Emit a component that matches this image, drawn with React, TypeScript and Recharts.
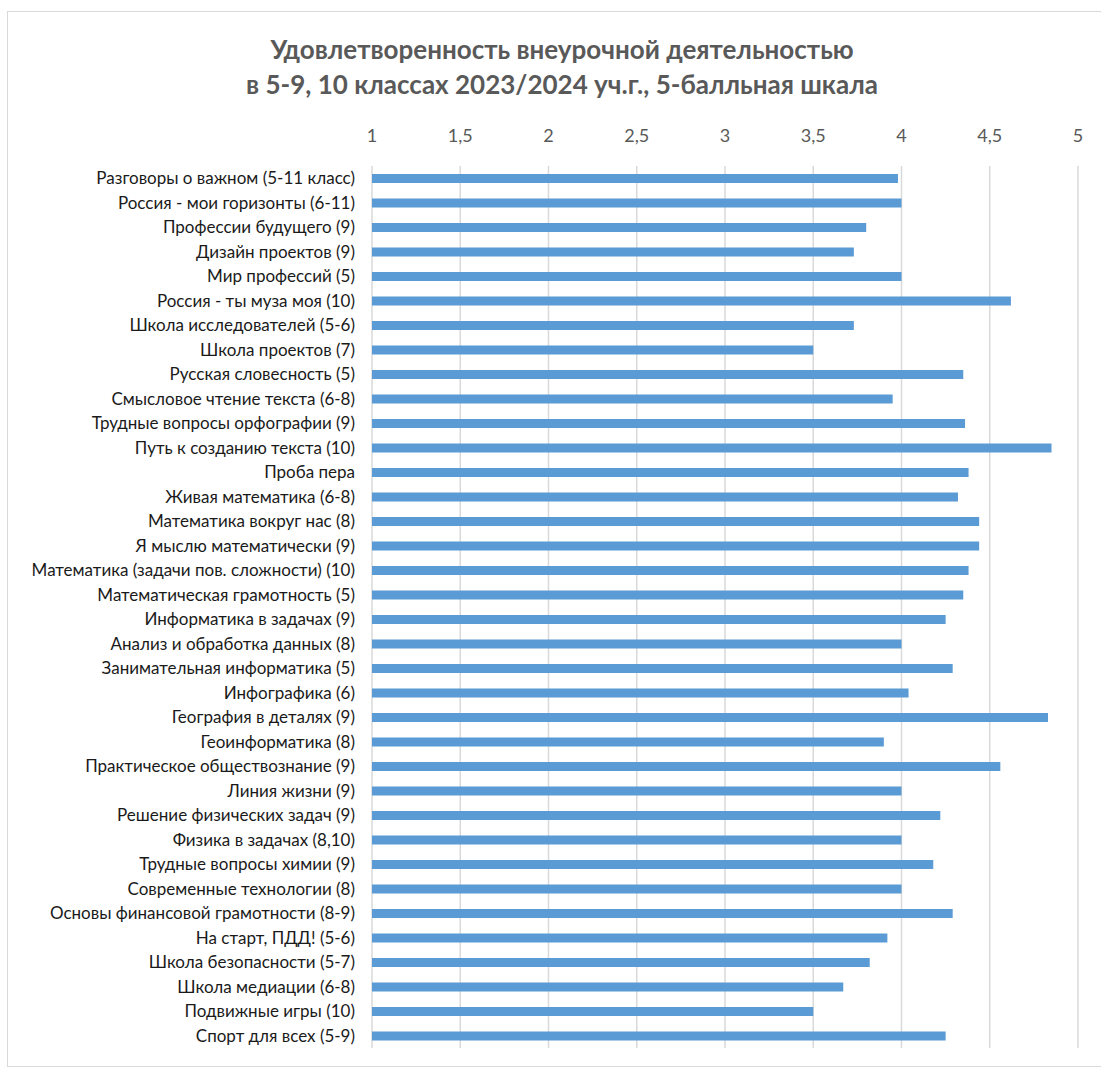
import React from 'react'
import { BarChart, Bar, XAxis, YAxis, CartesianGrid } from 'recharts'

const CATEGORIES = [
  'Разговоры о важном (5-11 класс)',
  'Россия - мои горизонты (6-11)',
  'Профессии будущего (9)',
  'Дизайн проектов (9)',
  'Мир профессий (5)',
  'Россия - ты муза моя (10)',
  'Школа исследователей (5-6)',
  'Школа проектов (7)',
  'Русская словесность (5)',
  'Смысловое чтение текста (6-8)',
  'Трудные вопросы орфографии (9)',
  'Путь к созданию текста (10)',
  'Проба пера',
  'Живая математика (6-8)',
  'Математика вокруг нас (8)',
  'Я мыслю математически (9)',
  'Математика (задачи пов. сложности) (10)',
  'Математическая грамотность (5)',
  'Информатика в задачах (9)',
  'Анализ и обработка данных (8)',
  'Занимательная информатика (5)',
  'Инфографика (6)',
  'География в деталях (9)',
  'Геоинформатика (8)',
  'Практическое обществознание (9)',
  'Линия жизни (9)',
  'Решение физических задач (9)',
  'Физика в задачах (8,10)',
  'Трудные вопросы химии (9)',
  'Современные технологии (8)',
  'Основы финансовой грамотности (8-9)',
  'На старт, ПДД! (5-6)',
  'Школа безопасности (5-7)',
  'Школа медиации (6-8)',
  'Подвижные игры (10)',
  'Спорт для всех (5-9)',
]

const SCORES = [
  3.98, 4.0, 3.8, 3.73, 4.0, 4.62, 3.73, 3.5, 4.35, 3.95, 4.36, 4.85,
  4.38, 4.32, 4.44, 4.44, 4.38, 4.35, 4.25, 4.0, 4.29, 4.04, 4.83, 3.9,
  4.56, 4.0, 4.22, 4.0, 4.18, 4.0, 4.29, 3.92, 3.82, 3.67, 3.5, 4.25,
]

const X_TICKS = [1, 1.5, 2, 2.5, 3, 3.5, 4, 4.5, 5]

const TITLE_LINES = [
  'Удовлетворенность внеурочной деятельностью',
  'в 5-9, 10 классах 2023/2024 уч.г., 5-балльная шкала',
]

const FONT = 'Lato, "Open Sans", sans-serif'

export default function App() {
  const data = CATEGORIES.map((name, i) => ({ name, value: SCORES[i] }))

  return (
    <div
      style={{
        position: 'absolute',
        left: 7,
        top: 11,
        width: 1100,
        height: 1054,
        border: '1px solid #d9d9d9',
        background: '#fff',
        fontFamily: FONT,
      }}>
      <div
        style={{
          position: 'absolute',
          left: 0,
          top: 20,
          width: 1108,
          textAlign: 'center',
          color: '#595959',
          fontWeight: 700,
          fontSize: 26,
          lineHeight: '35px',
        }}>
        {TITLE_LINES.map((line) => (
          <div key={line}>{line}</div>
        ))}
      </div>
      <div style={{ position: 'absolute', left: 0, top: 0 }}>
        <BarChart
          width={1090}
          height={1050}
          data={data}
          layout='vertical'
          margin={{ top: 124, right: 20, left: 0, bottom: 14 }}>
          <CartesianGrid horizontal={false} stroke='#d9d9d9' strokeWidth={1.5} />
          <XAxis
            type='number'
            orientation='top'
            domain={[1, 5]}
            ticks={X_TICKS}
            axisLine={false}
            tickLine={false}
            height={30}
            tickMargin={18}
            tick={{ fill: '#595959', fontSize: 18, fontFamily: FONT }}
            tickFormatter={(v: number) => String(v).replace('.', ',')}
          />
          <YAxis
            type='category'
            dataKey='name'
            width={364}
            interval={0}
            axisLine={false}
            tickLine={false}
            tickMargin={11}
            tick={{ fill: '#1a1a1a', fontSize: 17, fontFamily: FONT }}
          />
          <Bar dataKey='value' fill='#5b9bd5' barSize={9} isAnimationActive={false} />
        </BarChart>
      </div>
    </div>
  )
}
